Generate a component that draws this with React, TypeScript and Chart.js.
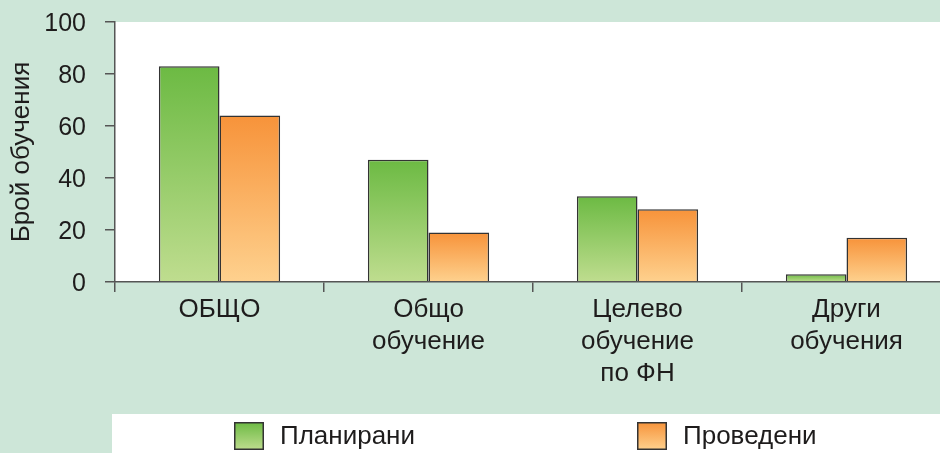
import React, { useEffect, useRef } from "react";
import { Chart, registerables } from "chart.js";

Chart.register(...registerables);

// ---- data ----
const categories: string[][] = [
  ["ОБЩО"],
  ["Общо", "обучение"],
  ["Целево", "обучение", "по ФН"],
  ["Други", "обучения"],
];
const planned = [83, 47, 33, 3];
const conducted = [64, 19, 28, 17];
const seriesNames = ["Планирани", "Проведени"];
const yTickValues = [0, 20, 40, 60, 80, 100];
const yTitle = "Брой обучения";

// ---- style ----
const FONT = "'Liberation Sans', Arial, Helvetica, sans-serif";
const BG = "#cde6d8";
const TEXT = "#1e1c1c";
const AXIS = "#555555";
const GREEN = ["#6cba43", "#bfdd8f"];
const ORANGE = ["#f7933a", "#fed18e"];
const seriesColors = [GREEN, ORANGE];

function gradFor(colors: string[]) {
  return (ctx: any) => {
    const chart = ctx.chart;
    const y = chart.scales && chart.scales.y;
    if (ctx.type !== "data" || !y) return colors[0];
    const top = y.getPixelForValue(ctx.raw);
    const base = y.getPixelForValue(0);
    if (!isFinite(top) || !isFinite(base) || Math.abs(base - top) < 0.5) return colors[0];
    const g = chart.ctx.createLinearGradient(0, top, 0, base);
    g.addColorStop(0, colors[0]);
    g.addColorStop(1, colors[1]);
    return g;
  };
}

const bgPlugin = {
  id: "bgLegend",
  beforeDraw(chart: any) {
    const { ctx, width, height, chartArea } = chart;
    ctx.save();
    ctx.fillStyle = BG;
    ctx.fillRect(0, 0, width, height);
    ctx.fillStyle = "#ffffff";
    ctx.fillRect(chartArea.left, chartArea.top, chartArea.right - chartArea.left, chartArea.bottom - chartArea.top);
    // legend panel
    ctx.fillRect(chartArea.left - 3, 414, width - chartArea.left + 3, height - 414);
    ctx.restore();
  },
  afterDraw(chart: any) {
    const { ctx } = chart;
    const itemX = [234, 637];
    const boxW = 30;
    const boxH = 28;
    const boxY = 422;
    ctx.save();
    chart.data.datasets.forEach((ds: any, i: number) => {
      const x = itemX[i];
      const cols = seriesColors[i];
      const g = ctx.createLinearGradient(0, boxY, 0, boxY + boxH);
      g.addColorStop(0, cols[0]);
      g.addColorStop(1, cols[1]);
      ctx.fillStyle = g;
      ctx.fillRect(x, boxY, boxW, boxH);
      ctx.strokeStyle = "#333333";
      ctx.lineWidth = 1.5;
      ctx.strokeRect(x + 0.75, boxY + 0.75, boxW - 1.5, boxH - 1.5);
      ctx.fillStyle = TEXT;
      ctx.font = `26px ${FONT}`;
      ctx.textBaseline = "middle";
      ctx.textAlign = "left";
      ctx.fillText(ds.label, x + 46, boxY + boxH / 2 + 1);
    });
    ctx.restore();
  },
};

export default function App() {
  const ref = useRef<HTMLCanvasElement | null>(null);

  useEffect(() => {
    if (!ref.current) return;
    const chart = new Chart(ref.current, {
      type: "bar",
      data: {
        labels: categories,
        datasets: [
          {
            label: seriesNames[0],
            data: planned,
            backgroundColor: gradFor(GREEN),
            borderColor: "#333333",
            borderWidth: 1.5,
            borderSkipped: "start",
            categoryPercentage: 0.58,
            barPercentage: 1.0,
          },
          {
            label: seriesNames[1],
            data: conducted,
            backgroundColor: gradFor(ORANGE),
            borderColor: "#333333",
            borderWidth: 1.5,
            borderSkipped: "start",
            categoryPercentage: 0.58,
            barPercentage: 1.0,
          },
        ],
      },
      options: {
        responsive: false,
        animation: false,
        devicePixelRatio: 1,
        layout: { padding: { top: 22, right: 9, left: 0, bottom: 0 } },
        plugins: {
          legend: { display: false },
          tooltip: { enabled: false },
        },
        scales: {
          x: {
            grid: {
              offset: true,
              drawOnChartArea: false,
              tickLength: 10,
              color: AXIS,
              lineWidth: 1.5,
            },
            border: { color: AXIS, width: 1.5, z: 1 },
            ticks: {
              font: { family: FONT, size: 26, lineHeight: 32 / 26 },
              color: TEXT,
              padding: 2,
              maxRotation: 0,
              autoSkip: false,
            },
            afterFit: (s: any) => {
              s.height = 171;
              s.paddingLeft = 0;
              s.paddingRight = 0;
            },
          },
          y: {
            min: 0,
            max: 100,
            afterBuildTicks: (s: any) => {
              s.ticks = yTickValues.map((v) => ({ value: v }));
            },
            grid: {
              drawOnChartArea: false,
              tickLength: 10,
              color: AXIS,
              lineWidth: 1.5,
            },
            border: { color: AXIS, width: 1.5, z: 1 },
            ticks: {
              font: { family: FONT, size: 25 },
              color: TEXT,
              padding: 19,
              labelOffset: 2,
            },
            title: {
              display: true,
              text: yTitle,
              color: TEXT,
              font: { family: FONT, size: 26 },
              padding: { top: 6, bottom: 0 },
            },
            afterFit: (s: any) => {
              s.width = 115;
              s.paddingTop = 0;
              s.paddingBottom = 0;
            },
          },
        },
      },
      plugins: [bgPlugin],
    });
    return () => chart.destroy();
  }, []);

  return (
    <div
      style={{
        position: "absolute",
        left: 0,
        top: 0,
        width: 940,
        height: 453,
        overflow: "hidden",
        background: BG,
      }}
    >
      <canvas ref={ref} width={960} height={453} style={{ display: "block", width: 960, height: 453 }} />
    </div>
  );
}
